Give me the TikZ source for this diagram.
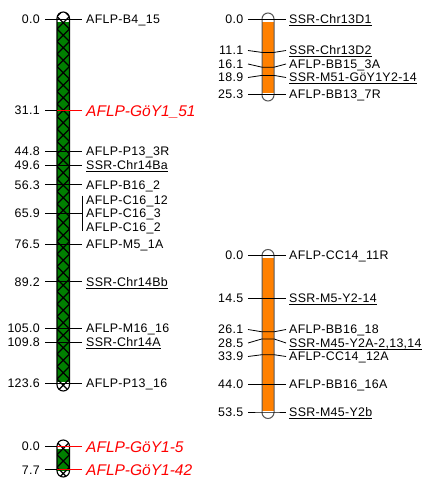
\documentclass[tikz,border=0pt]{standalone}
\usepackage{fontspec}
\setmainfont{Liberation Sans}[LetterSpace=2.5]
\definecolor{chrgreen}{HTML}{008000}
\definecolor{chrorange}{HTML}{FF8000}
\definecolor{chrgray}{HTML}{555555}
\newcommand\ulab[1]{\setbox0\hbox{#1}\rlap{\rule[-2.4pt]{\wd0}{0.75pt}}\box0}
\tikzset{
  num/.style={anchor=base east, inner sep=0pt},
  lab/.style={anchor=base west, inner sep=0pt},
  lab black/.style={},
  lab red/.style={text=red, font=\fontsize{15.5}{18}\selectfont\addfontfeature{LetterSpace=0}\itshape, yshift=-1.3pt},
  tick/.style={line width=0.8pt, black},
  hatch/.style={line width=1.4pt, black},
  chromline/.style={line width=1.1pt, black},
  chromgray/.style={line width=1pt, chrgray},
}
\begin{document}
\begin{tikzpicture}[x=1pt, y=-1pt, font=\fontsize{12.4}{14}\selectfont]
\useasboundingbox (0,0) rectangle (428,493);

% ---------- left chromosome ----------
\fill[white, rounded corners=6.25pt] (57,12) rectangle (69.5,391);
\fill[chrgreen] (57,21.5) rectangle (69.5,382);
\begin{scope}
  \clip[rounded corners=6.25pt] (57,12) rectangle (69.5,391);
  \foreach \k in {0,...,31} {
    \pgfmathsetmacro\ya{4+12.5*\k}
    \draw[hatch] (57,\ya) -- (69.5,\ya+12.5) (57,\ya+12.5) -- (69.5,\ya);
  }
\end{scope}
\draw[chromline, rounded corners=6.25pt] (57,12) rectangle (69.5,391);

\foreach \y/\num/\lab/\c [count=\i] in {
  19/0.0/{AFLP-B4\_15}/black,
  110.6/31.1/{AFLP-GöY1\_51}/red,
  150.9/44.8/{AFLP-P13\_3R}/black,
  165.1/49.6/{\ulab{SSR-Chr14Ba}}/black,
  184.8/56.3/{AFLP-B16\_2}/black,
  244.3/76.5/{AFLP-M5\_1A}/black,
  281.7/89.2/{\ulab{SSR-Chr14Bb}}/black,
  328.2/105.0/{AFLP-M16\_16}/black,
  342.4/109.8/{\ulab{SSR-Chr14A}}/black,
  383/123.6/{AFLP-P13\_16}/black} {
  \node[num] (A\i n) at (40,\y+4.3) {\num};
  \node[lab, lab \c] (A\i l) at (86,\y+4.3) {\lab};
  \coordinate (A\i p) at (45,\y);
  \coordinate (A\i q) at (57,\y);
  \coordinate (A\i r) at (82,\y);
  \draw[tick] (A\i p) -- (A\i q);
  \draw[tick, \c] (A\i q) -- (A\i r);
}
% group at 65.9
\node[num] (Gn) at (40,213.1+4.3) {65.9};
\coordinate (Gp) at (45,213.1);
\coordinate (Gr) at (82,213.1);
\coordinate (Gt) at (82,195.7);
\coordinate (Gb) at (82,231);
\draw[tick] (Gp) -- (Gr);
\draw[tick] (Gt) -- (Gb);
\node[lab] (G1) at (86,199.8+4.3) {AFLP-C16\_12};
\node[lab] (G2) at (86,213.3+4.3) {AFLP-C16\_3};
\node[lab] (G3) at (86,226.8+4.3) {AFLP-C16\_2};

% ---------- small linkage group ----------
\fill[white, rounded corners=6.25pt] (57,440) rectangle (69.5,477);
\fill[chrgreen] (57,448.5) rectangle (69.5,470.5);
\begin{scope}
  \clip[rounded corners=6.25pt] (57,440) rectangle (69.5,477);
  \foreach \k in {0,...,4} {
    \pgfmathsetmacro\ya{429.75+12.5*\k}
    \draw[hatch] (57,\ya) -- (69.5,\ya+12.5) (57,\ya+12.5) -- (69.5,\ya);
  }
\end{scope}
\draw[chromline, rounded corners=6.25pt] (57,440) rectangle (69.5,477);
\foreach \y/\num/\lab [count=\i] in {
  446.5/0.0/{AFLP-GöY1-5},
  469.7/7.7/{AFLP-GöY1-42}} {
  \node[num] (S\i n) at (40,\y+4.3) {\num};
  \node[lab, lab red] (S\i l) at (86,\y+4.3) {\lab};
  \coordinate (S\i p) at (45,\y);
  \coordinate (S\i q) at (57,\y);
  \coordinate (S\i r) at (82,\y);
  \draw[tick] (S\i p) -- (S\i q);
  \draw[tick, red] (S\i q) -- (S\i r);
}

% ---------- right chromosome 1 ----------
\fill[white, rounded corners=6pt] (262,13) rectangle (274,101);
\fill[chrorange] (262,22) rectangle (274,93);
\draw[chromgray, rounded corners=6pt] (262,13) rectangle (274,101);
\foreach \yb/\yl/\num/\lab [count=\i] in {
  19.5/19.5/0.0/{\ulab{SSR-Chr13D1}},
  52.4/50.5/11.1/{\ulab{SSR-Chr13D2}},
  67.2/64/16.1/{AFLP-BB15\_3A},
  75.4/77.5/18.9/{\ulab{SSR-M51-GöY1Y2-14}},
  94.4/94.4/25.3/{AFLP-BB13\_7R}} {
  \node[num] (B\i n) at (243.5,\yl+4.3) {\num};
  \node[lab] (B\i l) at (289,\yl+4.3) {\lab};
  \coordinate (B\i p) at (248,\yl);
  \coordinate (B\i q) at (262,\yb);
  \coordinate (B\i s) at (274,\yb);
  \coordinate (B\i r) at (286,\yl);
  \draw[tick] (B\i p) -- (B\i q) -- (B\i s) -- (B\i r);
}

% ---------- right chromosome 2 ----------
\fill[white, rounded corners=6pt] (262,249.5) rectangle (274,418.5);
\fill[chrorange] (262,258) rectangle (274,410.5);
\draw[chromgray, rounded corners=6pt] (262,249.5) rectangle (274,418.5);
\foreach \yb/\yl/\num/\lab [count=\i] in {
  255.5/255.5/0.0/{AFLP-CC14\_11R},
  297.9/297.9/14.5/{\ulab{SSR-M5-Y2-14}},
  331.8/329.5/26.1/{AFLP-BB16\_18},
  338.9/343/28.5/{\ulab{SSR-M45-Y2A-2,13,14}},
  354.7/356.5/33.9/{AFLP-CC14\_12A},
  384.2/384.2/44.0/{AFLP-BB16\_16A},
  412/412/53.5/{\ulab{SSR-M45-Y2b}}} {
  \node[num] (C\i n) at (243.5,\yl+4.3) {\num};
  \node[lab] (C\i l) at (289,\yl+4.3) {\lab};
  \coordinate (C\i p) at (248,\yl);
  \coordinate (C\i q) at (262,\yb);
  \coordinate (C\i s) at (274,\yb);
  \coordinate (C\i r) at (286,\yl);
  \draw[tick] (C\i p) -- (C\i q) -- (C\i s) -- (C\i r);
}
\end{tikzpicture}
\end{document}
